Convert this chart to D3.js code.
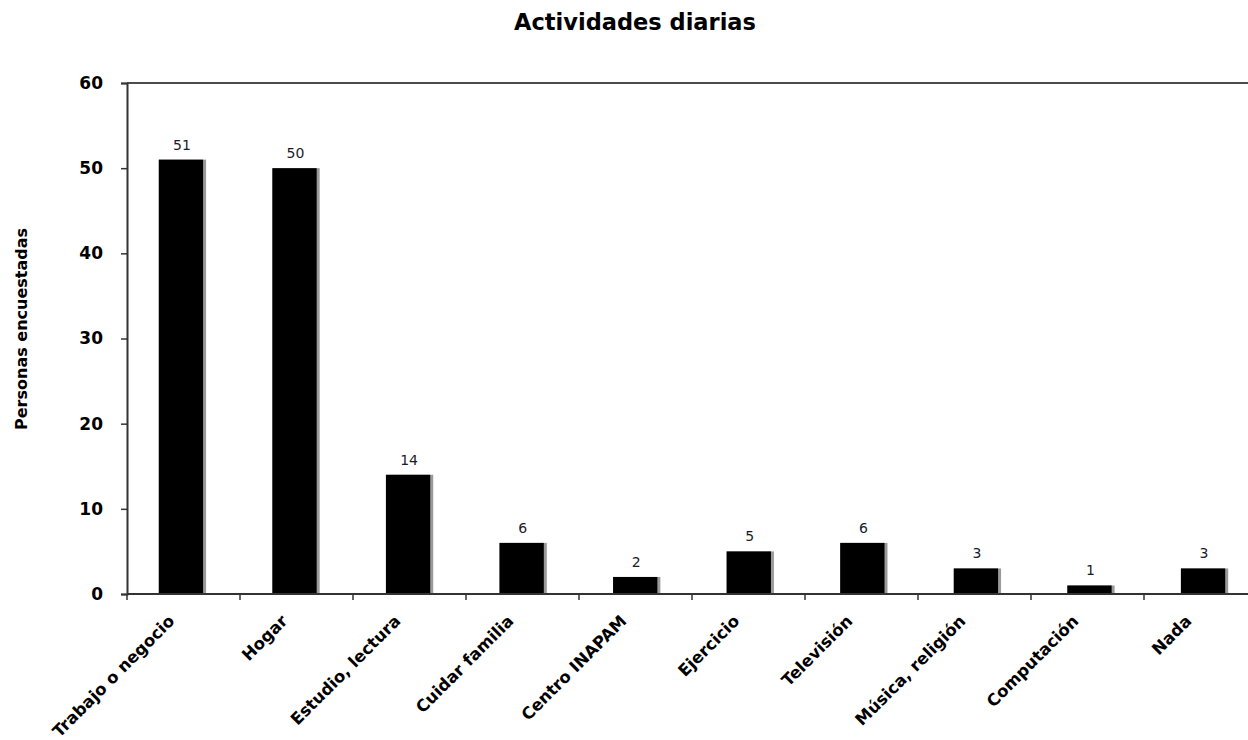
<!DOCTYPE html>
<html><head><meta charset="utf-8">
<script src="https://cdn.jsdelivr.net/npm/d3@7"></script>
<style>body{margin:0;background:#fff}svg{display:block}</style>
</head><body>
<svg id="c" width="1248" height="740"></svg>
<script>
const categories = ["Trabajo o negocio","Hogar","Estudio, lectura","Cuidar familia","Centro INAPAM","Ejercicio","Televisión","Música, religión","Computación","Nada"];
const values = [51,50,14,6,2,5,6,3,1,3];
const yTicks = [0,10,20,30,40,50,60];
const title = "Actividades diarias";
const yTitle = "Personas encuestadas";

const svg = d3.select("#c");
const font = "'DejaVu Sans', Verdana, sans-serif";
const L = 127, R = 1257, T = 83, B = 594;
const x = d3.scaleBand().domain(categories).range([L, R]).paddingInner(0.61).paddingOuter(0.28);
const xb = d3.scaleBand().domain(categories).range([L, R]);
const y = d3.scaleLinear().domain([0,60]).range([B, T]);

svg.append("text").attr("x", 635).attr("y", 30).attr("text-anchor","middle")
  .attr("font-family", font).attr("font-weight","bold").attr("font-size", 22.5).text(title);

// top border
svg.append("line").attr("x1", L).attr("x2", 1248).attr("y1", T).attr("y2", T).attr("stroke","#111").attr("stroke-width",1.5);

// bars
const g = svg.append("g");
g.selectAll("rect.sh").data(values).join("rect").attr("class","sh")
  .attr("x", (d,i)=>x(categories[i])).attr("width", x.bandwidth()+3)
  .attr("y", d=>y(d)).attr("height", d=>B-y(d)).attr("fill","#9a9a9a");
g.selectAll("rect.b").data(values).join("rect").attr("class","b")
  .attr("x", (d,i)=>x(categories[i])).attr("width", x.bandwidth())
  .attr("y", d=>y(d)).attr("height", d=>B-y(d)).attr("fill","#000");
g.selectAll("text.v").data(values).join("text").attr("class","v")
  .attr("x", (d,i)=>x(categories[i])+x.bandwidth()/2+1).attr("y", d=>y(d)-10)
  .attr("text-anchor","middle").attr("font-family", font).attr("font-size", 14).attr("fill","#1a1a2a")
  .text(d=>d);

// y axis
const ya = svg.append("g").attr("transform",`translate(${L},0)`)
  .call(d3.axisLeft(y).tickValues(yTicks).tickSize(6).tickPadding(18));
ya.select(".domain").attr("stroke","#333").attr("stroke-width",2);
ya.selectAll(".tick line").attr("stroke","#333").attr("stroke-width",1.5);
ya.selectAll("text").attr("font-family", font).attr("font-weight","bold").attr("font-size",17).attr("fill","#000");

// x axis
const xa = svg.append("g").attr("transform",`translate(0,${B})`);
xa.append("line").attr("x1", L).attr("x2", 1248).attr("stroke","#333").attr("stroke-width",2);
const bounds = categories.map(c=>xb(c)).concat([R]);
xa.selectAll("line.t").data(bounds).join("line").attr("class","t")
  .attr("x1", d=>d).attr("x2", d=>d).attr("y1",0).attr("y2",6).attr("stroke","#333").attr("stroke-width",1.5);
xa.selectAll("text").data(categories).join("text")
  .attr("transform", c=>`translate(${xb(c)+xb.bandwidth()/2-12},24) rotate(-45)`)
  .attr("text-anchor","end").attr("dy","0.35em")
  .attr("font-family", font).attr("font-weight","bold").attr("font-size",16.5).attr("fill","#000")
  .text(c=>c);

svg.append("text").attr("transform","translate(27,329) rotate(-90)").attr("text-anchor","middle")
  .attr("font-family", font).attr("font-weight","bold").attr("font-size",16).text(yTitle);
</script>
</body></html>
